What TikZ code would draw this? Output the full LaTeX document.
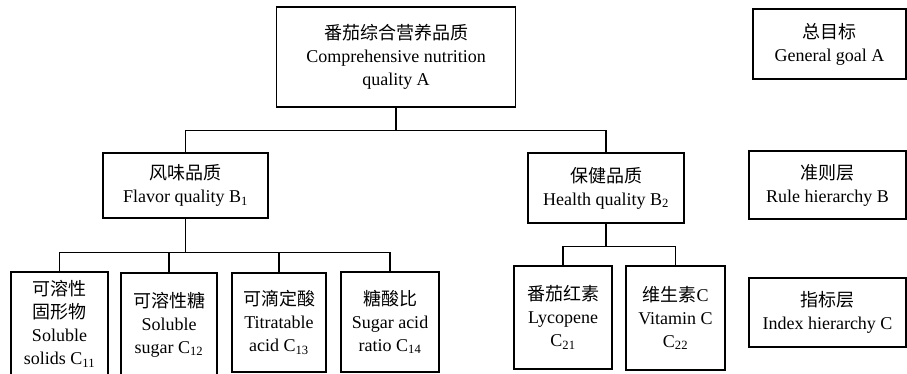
\documentclass[tikz,border=0pt]{standalone}
\usepackage{fontspec}
\setmainfont{Liberation Serif}
\newfontfamily\cjk{Noto Sans CJK SC}
\usepackage{tikz}

\begin{document}
\begin{tikzpicture}[x=1pt, y=-1pt, line width=1.1pt,
            every node/.style={draw, align=center, inner sep=0pt,
                font=\fontsize{18}{23}\selectfont},
            cbox/.style={minimum width=97pt, minimum height=102pt}]
        \clip (0,0) rectangle (907,374);

        % goal and criteria
        \node (A) [minimum width=239pt, minimum height=100pt] at (396,57)
            {{\cjk 番茄综合营养品质}\\Comprehensive nutrition\\quality A};
        \node (B1) [minimum width=165pt, minimum height=65pt] at (185.5,185.5)
            {{\cjk 风味品质}\\Flavor quality B\textsubscript{1}};
        \node (B2) [minimum width=156pt, minimum height=70pt] at (606,188)
            {{\cjk 保健品质}\\Health quality B\textsubscript{2}};

        % indices
        \node (C11) [cbox, minimum height=104pt] at (59.5,324)
            {{\cjk 可溶性}\\{\cjk 固形物}\\Soluble\\solids C\textsubscript{11}};
        \node (C12) [cbox, minimum width=96pt, minimum height=103pt] at (169,324.5)
            {{\cjk 可溶性糖}\\Soluble\\sugar C\textsubscript{12}};
        \node (C13) [cbox, minimum width=94pt, minimum height=99pt] at (279,322.5)
            {{\cjk 可滴定酸}\\Titratable\\acid C\textsubscript{13}};
        \node (C14) [cbox, minimum width=98pt, minimum height=100pt] at (390,322)
            {{\cjk 糖酸比}\\Sugar acid\\ratio C\textsubscript{14}};
        \node (C21) [cbox, minimum width=98pt, minimum height=103pt] at (563,317.5)
            {{\cjk 番茄红素}\\Lycopene\\C\textsubscript{21}};
        \node (C22) [cbox, minimum width=99pt, minimum height=104pt] at (675.5,318)
            {{\cjk 维生素}C\\Vitamin C\\C\textsubscript{22}};

        % hierarchy names
        \node (G) [minimum width=153pt, minimum height=70pt] at (829.5,44)
            {{\cjk 总目标}\\General goal A};
        \node (R) [minimum width=157pt, minimum height=68pt] at (827.5,185)
            {{\cjk 准则层}\\Rule hierarchy B};
        \node (I) [minimum width=157pt, minimum height=69pt] at (827.5,312.5)
            {{\cjk 指标层}\\Index hierarchy C};

        \draw (A.south) -- ++(0,23) -| (B1.north);
        \draw (A.south) -- ++(0,23) -| (B2.north);
        \foreach \c in {C11,C12,C13,C14}
            \draw (B1.south) -- ++(0,34) -| (\c.north);
        \foreach \c in {C21,C22}
            \draw (B2.south) -- ++(0,23) -| (\c.north);
    \end{tikzpicture}
\end{document}
